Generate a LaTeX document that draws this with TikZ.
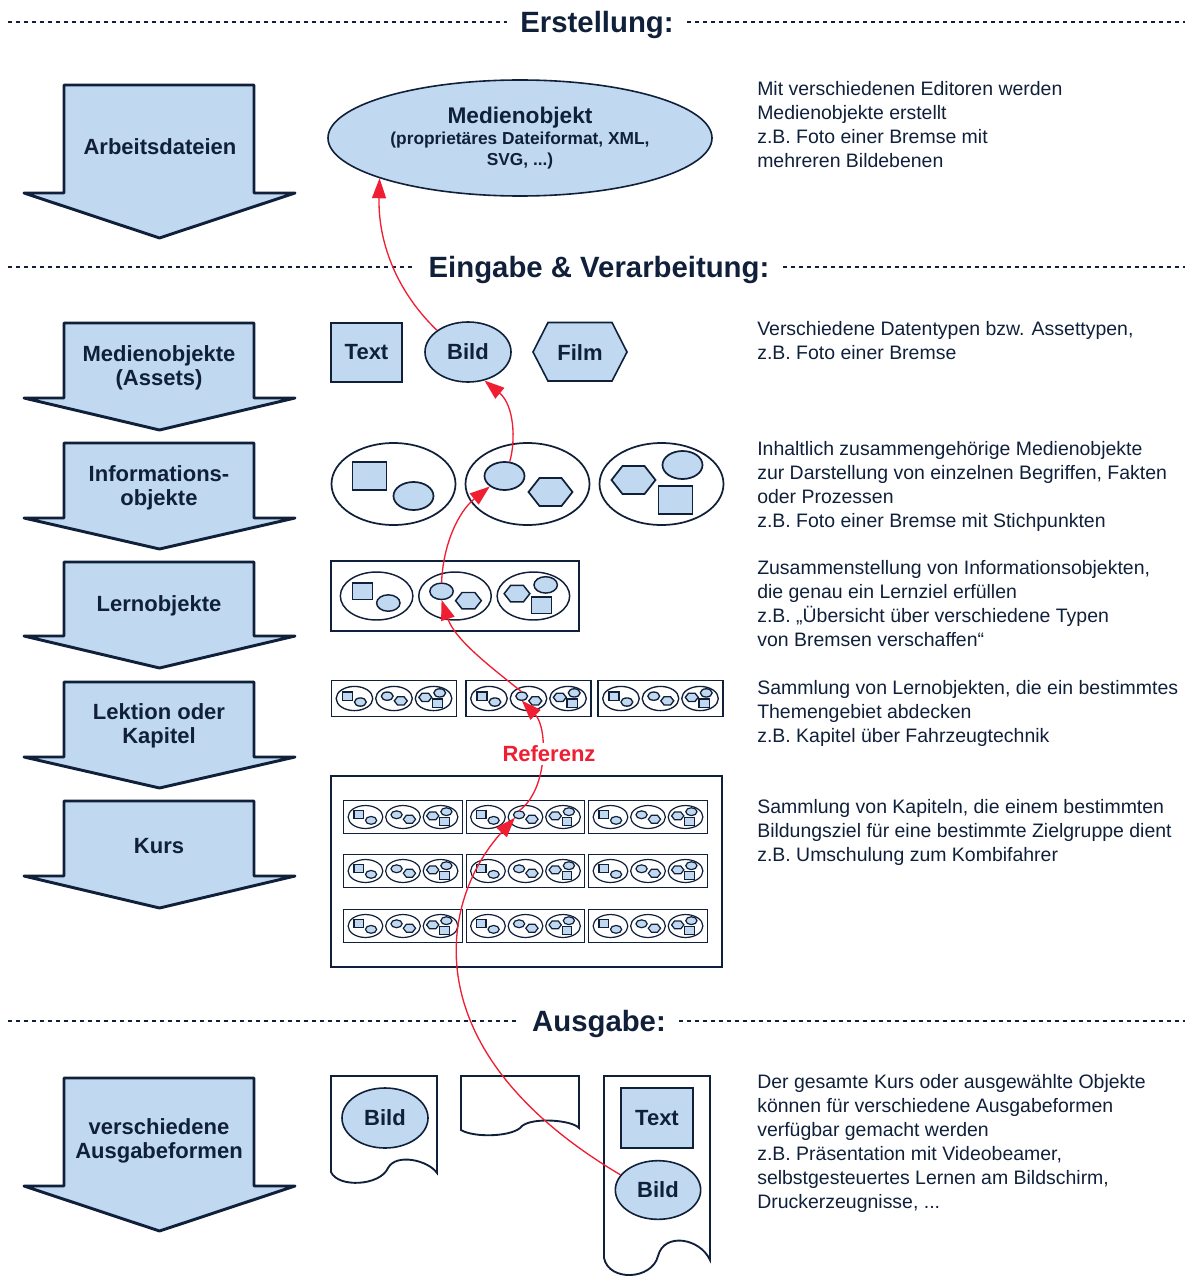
\documentclass[tikz,border=0pt]{standalone}
\usepackage{fontspec}
\setmainfont{Liberation Sans}
\usetikzlibrary{arrows.meta,shapes.geometric}

\definecolor{ink}{RGB}{16,32,58}
\definecolor{hellblau}{RGB}{192,217,240}
\definecolor{refrot}{RGB}{240,30,50}

\tikzset{
  trenner/.style={ink, line width=2.2pt, dash pattern=on 3pt off 3pt},
  titel/.style={text=ink, font=\bfseries\fontsize{22}{26}\selectfont, inner xsep=10pt},
  erkl/.style={text=ink, font=\fontsize{14.6}{18}\selectfont, align=left, anchor=north west, inner sep=0pt},
  pfeiltext/.style={text=ink, font=\bfseries\fontsize{16.5}{18}\selectfont, align=center},
  form/.style={draw=ink, fill=hellblau, line width=1.2pt, text=ink, font=\bfseries\fontsize{16.5}{19}\selectfont, inner sep=0pt},
  klein/.style={draw=ink, fill=hellblau, inner sep=0pt, transform shape},
  huelle/.style={draw=ink, fill=white, ellipse, minimum width=93pt, minimum height=61.5pt, inner sep=0pt, transform shape},
  verweis/.style={refrot, line width=1pt, -{Triangle[length=15pt,width=10.5pt]}},
  % Informationsobjekte
  infoA/.pic={
    \node[huelle] at (0,0) {};
    \node[klein, minimum width=25.5pt, minimum height=21pt] at (-24,-8) {};
    \node[klein, ellipse, minimum width=30pt, minimum height=21pt] at (20,12) {};
  },
  infoB/.pic={
    \node[huelle] at (0,0) {};
    \node[klein, ellipse, minimum width=30pt, minimum height=21pt] (-ziel) at (-23,-8) {};
    \draw[klein] (1,8) -- (12,-6) -- (34,-6) -- (45,8) -- (34,22) -- (12,22) -- cycle;
  },
  infoC/.pic={
    \node[huelle] at (0,0) {};
    \draw[klein] (-50,-4) -- (-39,-18) -- (-17,-18) -- (-6,-4) -- (-17,10) -- (-39,10) -- cycle;
    \node[klein, ellipse, minimum width=30pt, minimum height=21pt] at (21,-19) {};
    \node[klein, minimum width=25.5pt, minimum height=21pt] at (14,16) {};
  },
  infotrio/.pic={
    \pic[transform shape] (-a) at (-134,0) {infoA};
    \pic[transform shape] (-b) at (0,0) {infoB};
    \pic[transform shape] (-c) at (134,0) {infoC};
  },
  lernobj/.pic={
    \draw[ink] (-212,-60) rectangle (212,60);
    \pic[transform shape] {infotrio};
  },
}

% grosser Pfeil links: oben, Hals, Spitze
\newcommand{\stufenpfeil}[3]{%
  \draw[ink, fill=hellblau, line width=2.2pt, line join=round]
    (64,#1) -- (254,#1) -- (254,#2) -- (295,#2) -- (159.5,#3) -- (24,#2) -- (64,#2) -- cycle;}

\begin{document}
\begin{tikzpicture}[x=0.75pt, y=-0.75pt]
\useasboundingbox (0,0) rectangle (1188,1277);

% Trennlinien
\node[titel] (erstellung) at (597,25) {Erstellung:};
\draw[trenner] (8,22) -- (erstellung.west |- 8,22);
\draw[trenner] (erstellung.east |- 8,22) -- (1185,22);
\node[titel] (eingabe) at (599,270) {Eingabe \& Verarbeitung:};
\draw[trenner] (8,267) -- (eingabe.west |- 8,267);
\draw[trenner] (eingabe.east |- 8,267) -- (1185,267);
\node[titel] (ausgabe) at (599,1024) {Ausgabe:};
\draw[trenner] (8,1021) -- (ausgabe.west |- 8,1021);
\draw[trenner] (ausgabe.east |- 8,1021) -- (1185,1021);

% Pfeile links
\stufenpfeil{85}{193}{238}
\node[pfeiltext] (arbeit) at (160,147) {Arbeitsdateien};
\stufenpfeil{323}{398}{430}
\node[pfeiltext] (assets) at (159,368) {Medienobjekte\\(Assets)};
\stufenpfeil{443}{518}{549}
\node[pfeiltext] (info) at (159,488) {Informations-\\objekte};
\stufenpfeil{562}{636}{668}
\node[pfeiltext] (lern) at (159,606) {Lernobjekte};
\stufenpfeil{682}{757}{788}
\node[pfeiltext] (lektion) at (159,726) {Lektion oder\\Kapitel};
\stufenpfeil{801}{876}{908}
\node[pfeiltext] (kurs) at (159,846) {Kurs};
\stufenpfeil{1078}{1186}{1231}
\node[pfeiltext] (ausgabeformen) at (159,1141) {verschiedene\\Ausgabeformen};

% Erstellung
\node[form, ellipse, minimum width=288pt, minimum height=87pt, align=center,
      font=\bfseries\fontsize{13}{16}\selectfont] (medien) at (520,138)
  {{\fontsize{17}{16}\selectfont Medienobjekt}\\(proprietäres Dateiformat, XML,\\SVG, ...)};

% Medienobjekte
\node[form, minimum width=53pt, minimum height=44pt] (text) at (366.5,352.5) {Text};
\node[form, ellipse, minimum width=64.5pt, minimum height=45pt] (bild) at (468,352) {Bild};
\draw[form] (533,352) -- (548,322.5) -- (612,322.5) -- (627,352) -- (612,381) -- (548,381) -- cycle;
\node[text=ink, font=\bfseries\fontsize{16.5}{19}\selectfont] (film) at (580,353) {Film};

% Informationsobjekte, Lernobjekt, Lektionen, Kurs
\pic[line width=1.3pt] (io) at (527.5,484) {infotrio};
\pic[scale=0.585, line width=1.1pt] (lo) at (455,596) {lernobj};
\pic[scale=0.295, line width=1pt] (lek1) at (394,698.5) {lernobj};
\pic[scale=0.295, line width=1pt] (lek2) at (528.5,698.5) {lernobj};
\pic[scale=0.295, line width=1pt] (lek3) at (660.5,698.5) {lernobj};
\draw[ink, line width=1.1pt] (331,776) rectangle (722,967);
\foreach \c/\x in {1/403,2/525.5,3/648}
  \foreach \r/\y in {1/817,2/871,3/926}
    \pic[scale=0.28, line width=0.9pt] (k\c\r) at (\x,\y) {lernobj};

% Ausgabeformen
\draw[ink, line width=1.4pt] (331,1076) -- (437,1076) -- (437,1173)
  .. controls (428,1160) and (396,1153) .. (388,1168)
  .. controls (380,1186) and (338,1188) .. (331,1172) -- cycle;
\draw[ink, line width=1.4pt] (461,1076) -- (579,1076) -- (579,1128)
  .. controls (572,1120) and (533,1117) .. (522,1126)
  .. controls (514,1137) and (474,1138) .. (461,1130) -- cycle;
\draw[ink, line width=1.4pt] (604,1076) -- (710,1076) -- (710,1260)
  .. controls (700,1238) and (664,1232) .. (658,1256)
  .. controls (652,1280) and (609,1282) .. (604,1258) -- cycle;
\node[form, ellipse, minimum width=64.5pt, minimum height=45pt] (bild1) at (385,1118) {Bild};
\node[form, minimum width=54pt, minimum height=45pt] (text3) at (657,1118) {Text};
\node[form, ellipse, minimum width=64pt, minimum height=44pt] (bild3) at (658,1190) {Bild};

% Referenzen
\draw[verweis] (bild3.158) .. controls (410,1050) and (440,900) .. (k21-b-ziel.south west);
\draw[verweis] (k21-b-ziel.north) .. controls (548,790) and (548,728) .. (lek2-b-ziel.south);
\node[fill=white, inner sep=2pt, text=refrot, font=\bfseries\fontsize{16.5}{19}\selectfont] (referenz) at (549,754) {Referenz};
\draw[verweis] (lek2-b-ziel.north) .. controls (492,668) and (455,640) .. (lo-b-ziel.south);
\draw[verweis] (lo-b-ziel.north) .. controls (443,545) and (458,512) .. (io-b-ziel.south west);
\draw[verweis] (io-b-ziel.70) .. controls (516,440) and (514,405) .. (bild.-60);
\draw[verweis] (bild.145) .. controls (395,290) and (378,240) .. (medien.196);

% Erklaerungen
\node[erkl] (e1) at (757,81) {Mit verschiedenen Editoren werden\\Medienobjekte erstellt\\z.B. Foto einer Bremse mit\\mehreren Bildebenen};
\node[erkl] (e2) at (757,321) {Verschiedene Datentypen bzw. Assettypen,\\z.B. Foto einer Bremse};
\node[erkl] (e3) at (757,441) {Inhaltlich zusammengehörige Medienobjekte\\zur Darstellung von einzelnen Begriffen, Fakten\\oder Prozessen\\z.B. Foto einer Bremse mit Stichpunkten};
\node[erkl] (e4) at (757,560) {Zusammenstellung von Informationsobjekten,\\die genau ein Lernziel erfüllen\\z.B. „Übersicht über verschiedene Typen\\von Bremsen verschaffen“};
\node[erkl] (e5) at (757,680) {Sammlung von Lernobjekten, die ein bestimmtes\\Themengebiet abdecken\\z.B. Kapitel über Fahrzeugtechnik};
\node[erkl] (e6) at (757,799) {Sammlung von Kapiteln, die einem bestimmten\\Bildungsziel für eine bestimmte Zielgruppe dient\\z.B. Umschulung zum Kombifahrer};
\node[erkl] (e7) at (757,1074) {Der gesamte Kurs oder ausgewählte Objekte\\können für verschiedene Ausgabeformen\\verfügbar gemacht werden\\z.B. Präsentation mit Videobeamer,\\selbstgesteuertes Lernen am Bildschirm,\\Druckerzeugnisse, ...};

\end{tikzpicture}
\end{document}
